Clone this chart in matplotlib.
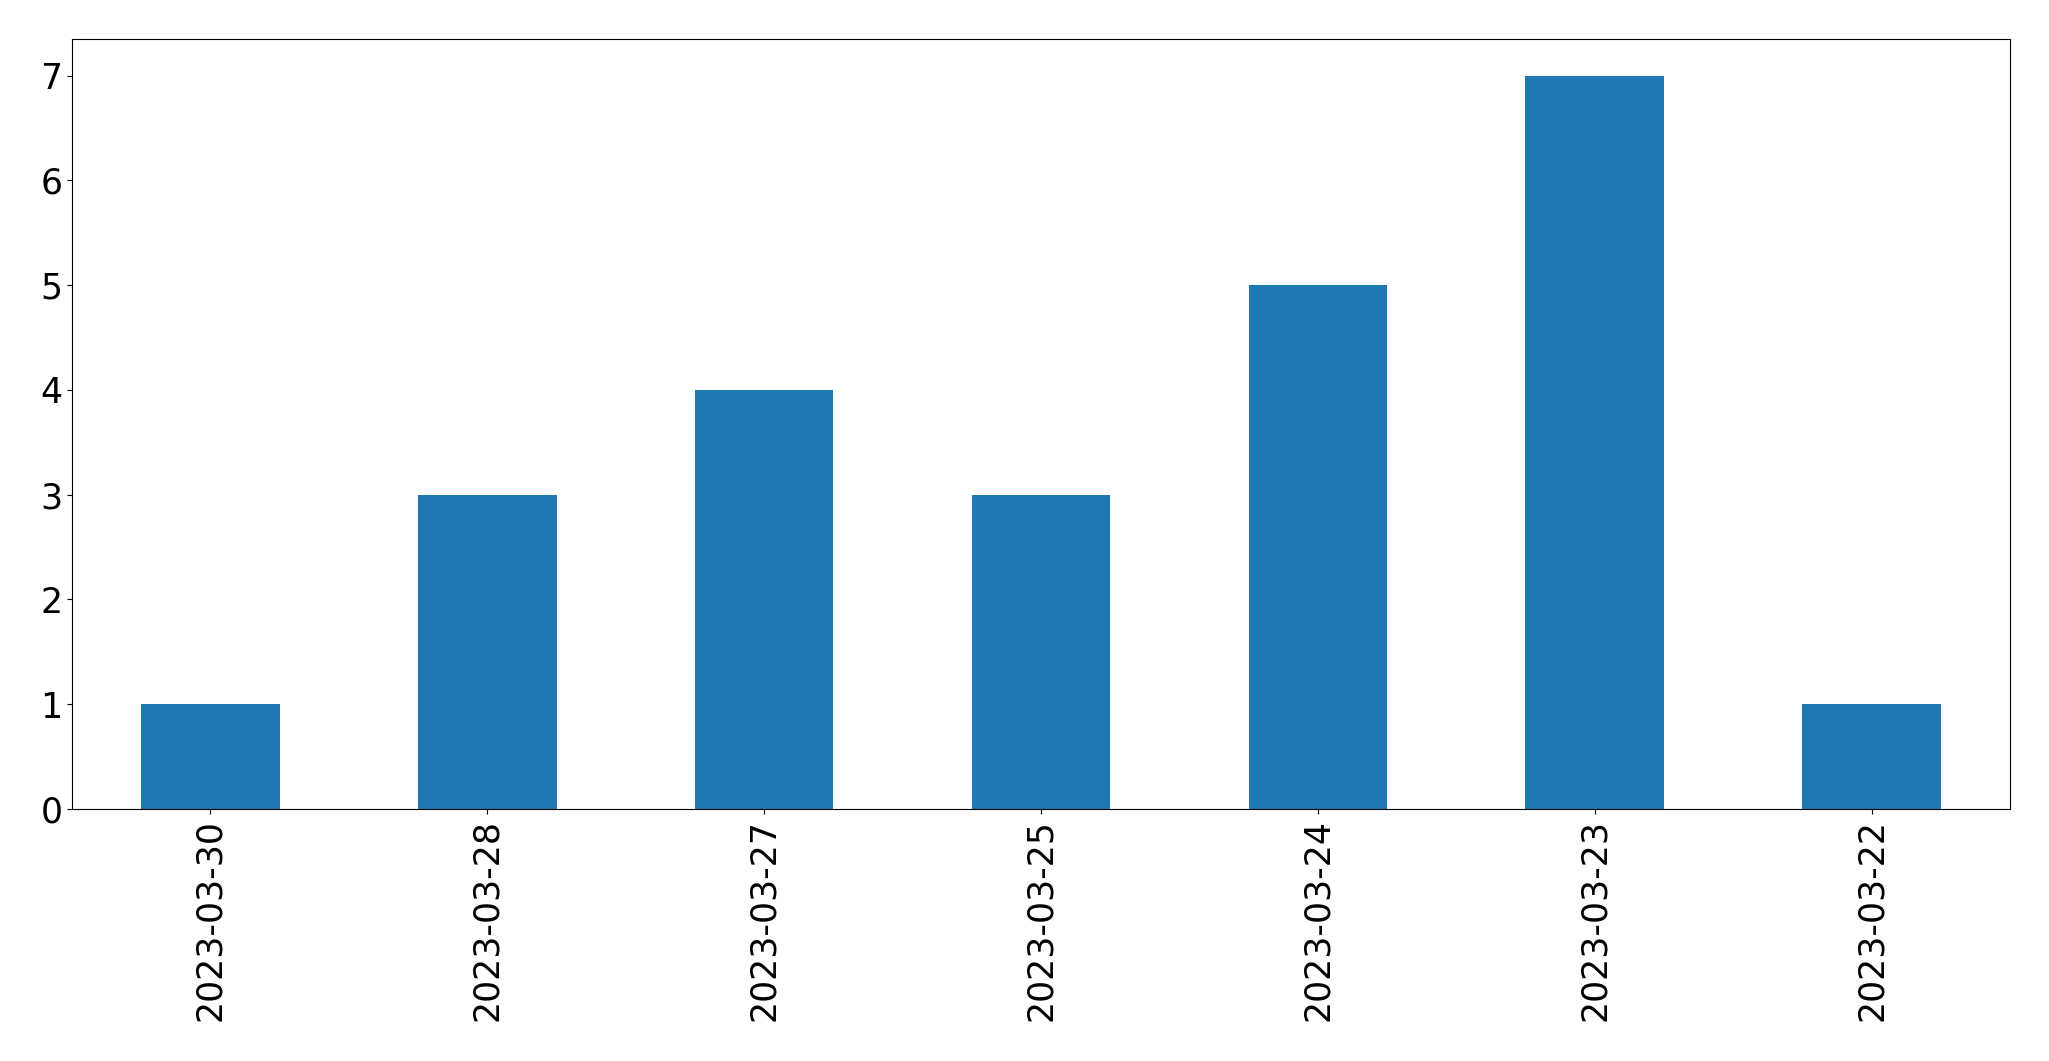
import pandas as pd
import matplotlib
matplotlib.use('Agg')
import matplotlib.pyplot as plt

dates = ['2023-03-30', '2023-03-28', '2023-03-27', '2023-03-25',
         '2023-03-24', '2023-03-23', '2023-03-22']
counts = [1, 3, 4, 3, 5, 7, 1]

s = pd.Series(counts, index=dates)

fig, ax = plt.subplots(figsize=(20.49, 10.61), dpi=100)
s.plot(kind='bar', ax=ax, color='#1f77b4')
ax.tick_params(labelsize=25)
fig.subplots_adjust(left=72/2049, right=2010/2049, top=1-39/1061, bottom=1-809/1061)
plt.savefig('out.png', dpi=100)
